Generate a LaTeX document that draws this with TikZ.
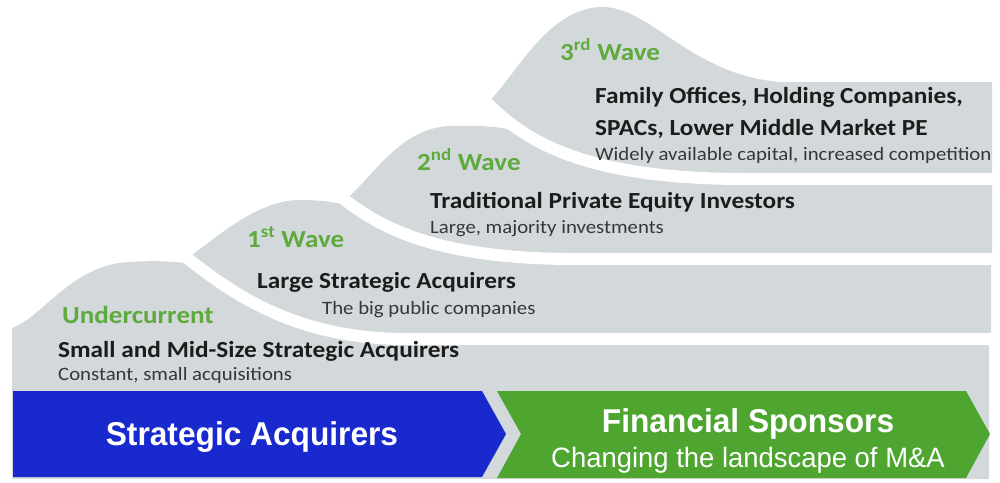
\documentclass[tikz,border=0pt]{standalone}
\usepackage{fontspec}
\usepackage{graphicx}
\setmainfont{Carlito}
\newfontfamily\bandfont{Liberation Sans}
\definecolor{wavegray}{RGB}{211,216,219}
\definecolor{wavegreen}{RGB}{94,170,62}
\definecolor{arrowblue}{RGB}{24,42,206}
\definecolor{arrowgreen}{RGB}{78,166,48}
\definecolor{inktext}{RGB}{28,28,28}
\definecolor{subtext}{RGB}{55,55,55}
% slightly wide setting of the wave captions
\newcommand\widetext[1]{\scalebox{1.1}[1]{#1}}

\begin{document}
\begin{tikzpicture}[x=1pt,y=-1pt,
  wave/.style={fill=wavegray},
  gap/.style={draw=white,line width=12pt,line cap=round},
  wavetitle/.style={anchor=base west,inner sep=0pt,text=wavegreen,font=\fontsize{24.6}{28}\selectfont\bfseries},
  who/.style={anchor=base west,inner sep=0pt,text=inktext,font=\fontsize{23}{26}\selectfont\bfseries},
  note/.style={anchor=base west,inner sep=0pt,text=subtext,font=\fontsize{18.9}{22}\selectfont},
  bandtext/.style={text=white,inner sep=0pt,font=\bandfont\bfseries}
]
\useasboundingbox (0,0) rectangle (1000,482);

% ---- undercurrent (lowest layer) ----
\fill[wave] (12,479) -- (12,328)
  .. controls (42,318) and (72,264) .. (130,262)
  .. controls (160,260) and (180,262) .. (190,264)
  -- (420,339) -- (989,339) -- (989,479) -- cycle;

% ---- 1st wave ----
\coordinate (tipA) at (187,258);
\fill[wave] (tipA)
  .. controls (215,240) and (255,200) .. (300,200)
  .. controls (320,200) and (335,202) .. (350,206)
  -- (560,259) -- (991,259) -- (991,339) -- (400,339)
  .. controls (300,337) and (240,300) .. (tipA) -- cycle;
\draw[gap] (tipA) .. controls (240,300) and (300,337) .. (400,339) -- (991,339);

% ---- 2nd wave ----
\coordinate (tipB) at (345,200);
\fill[wave] (tipB)
  .. controls (375,175) and (400,128) .. (450,126)
  .. controls (480,125) and (500,127) .. (512,130)
  -- (720,179) -- (992,179) -- (992,259) -- (570,259)
  .. controls (450,258) and (390,235) .. (tipB) -- cycle;
\draw[gap] (tipB) .. controls (390,235) and (450,258) .. (570,259) -- (992,259);

% ---- 3rd wave ----
\coordinate (tipC) at (487,103);
\fill[wave] (tipC)
  .. controls (515,78) and (545,10) .. (600,7)
  .. controls (650,5) and (690,75) .. (780,82)
  -- (992,82) -- (992,179) -- (740,179)
  .. controls (580,178) and (525,140) .. (tipC) -- cycle;
\draw[gap] (tipC) .. controls (525,140) and (580,178) .. (740,179) -- (992,179);

% ---- chevron bands ----
\fill[arrowblue] (13,391) -- (482,391) -- (506,434) -- (482,477) -- (13,477) -- cycle;
\fill[arrowgreen] (497,391) -- (966,391) -- (990,434) -- (966,478) -- (497,478) -- (521,434) -- cycle;

% ---- wave labels ----
\node[wavetitle] (w3) at (560,60) {\widetext{3\textsuperscript{rd} Wave}};
\node[who] (w3a) at (595,103) {\widetext{Family Offices, Holding Companies,}};
\node[who] (w3b) at (595,135) {\widetext{SPACs, Lower Middle Market PE}};
\node[note] (w3c) at (595,160) {\widetext{Widely available capital, increased competition}};

\node[wavetitle] (w2) at (417,170) {\widetext{2\textsuperscript{nd} Wave}};
\node[who] (w2a) at (430,208) {\widetext{Traditional Private Equity Investors}};
\node[note] (w2b) at (430,233) {\widetext{Large, majority investments}};

\node[wavetitle] (w1) at (247,247) {\widetext{1\textsuperscript{st} Wave}};
\node[who] (w1a) at (257,288) {\widetext{Large Strategic Acquirers}};
\node[note] (w1b) at (322,314) {\widetext{The big public companies}};

\node[wavetitle] (w0) at (62,323) {\widetext{Undercurrent}};
\node[who] (w0a) at (58,357) {\widetext{Small and Mid-Size Strategic Acquirers}};
\node[note] (w0b) at (58,380) {\widetext{Constant, small acquisitions}};

% ---- band labels ----
\node[bandtext,font=\bandfont\bfseries\fontsize{33}{36}\selectfont] (sa) at (252,437)
  {\scalebox{0.96}[1]{Strategic Acquirers}};
\node[bandtext,font=\bandfont\bfseries\fontsize{33}{36}\selectfont] (fs) at (748,424)
  {\scalebox{0.96}[1]{Financial Sponsors}};
\node[bandtext,font=\bandfont\fontsize{28}{32}\selectfont] (fs2) at (748,460)
  {\scalebox{0.98}[1]{Changing the landscape of M\&A}};
\end{tikzpicture}
\end{document}
